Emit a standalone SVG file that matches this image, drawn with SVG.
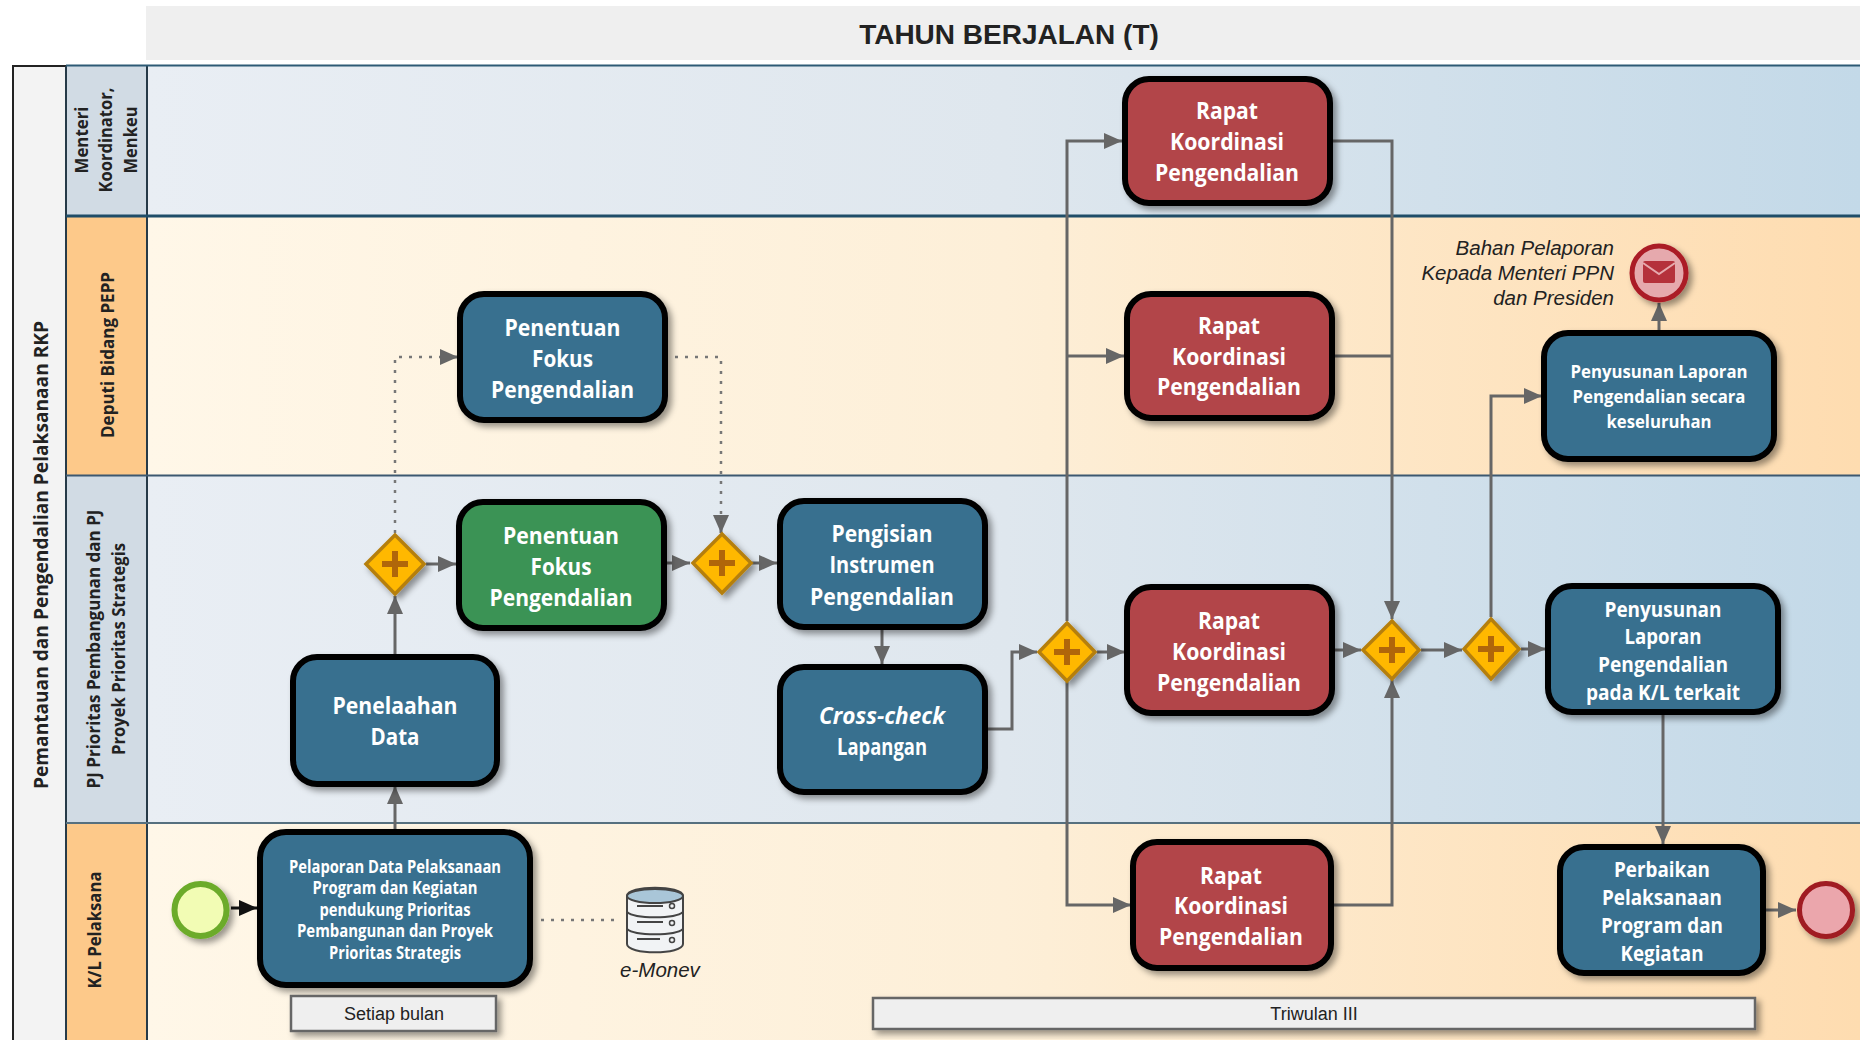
<svg xmlns="http://www.w3.org/2000/svg" width="1860" height="1040" viewBox="0 0 1860 1040">
<defs>
<linearGradient id="laneBlue" x1="0" x2="1" y1="0" y2="0"><stop offset="0" stop-color="#e9eef4"/><stop offset="0.5" stop-color="#dfe7ee"/><stop offset="1" stop-color="#c3d9e8"/></linearGradient>
<linearGradient id="laneOrange" x1="0" x2="1" y1="0" y2="0"><stop offset="0" stop-color="#fff7e8"/><stop offset="0.5" stop-color="#fdefd8"/><stop offset="1" stop-color="#fedcb0"/></linearGradient>
<filter id="sh" x="-20%" y="-20%" width="150%" height="150%"><feDropShadow dx="4" dy="4" stdDeviation="3" flood-color="#000" flood-opacity="0.4"/></filter>
<marker id="ag" markerUnits="userSpaceOnUse" markerWidth="20" markerHeight="18" refX="19" refY="9" orient="auto"><path d="M1 1 L19 9 L1 17 Z" fill="#666"/></marker>
<marker id="ak" markerUnits="userSpaceOnUse" markerWidth="20" markerHeight="18" refX="19" refY="9" orient="auto"><path d="M1 1 L19 9 L1 17 Z" fill="#111"/></marker>
</defs>
<style>
.c{fill:none;stroke:#666;stroke-width:3;marker-end:url(#ag)}
.p{fill:none;stroke:#666;stroke-width:3}
.d{fill:none;stroke:#777;stroke-width:2.500;stroke-dasharray:3 7}
.task{stroke:#000;stroke-width:6;filter:url(#sh)}
.blue{fill:#37708f}.red{fill:#b2444a}.green{fill:#3b9355}
.t{font-family:"Open Sans","Noto Sans",sans-serif;font-weight:700;fill:#fff;text-anchor:middle}
.t24{font-size:24px}.t21{font-size:21px}.t18{font-size:18px}.t17{font-size:17px}
.gw{fill:#ffb800;stroke:#b57f10;stroke-width:3.500;filter:url(#sh)}
.plus{fill:none;stroke:#b0660a;stroke-width:6}
.h{font-family:"Open Sans","Noto Sans",sans-serif;font-weight:700;fill:#222;text-anchor:middle;font-size:17px}
.a{font-family:"Liberation Sans",Arial,sans-serif;fill:#222}
.box{fill:#efefef;stroke:#666;stroke-width:2.500;filter:url(#sh)}
.dbb{fill:#f1f3f5;stroke:#444;stroke-width:2}
</style>
<rect width="1860" height="1040" fill="#fff"/>
<g id="lanes">
<rect x="146" y="6" width="1714" height="54" fill="#efefef"/>
<rect x="147" y="65" width="1713" height="151" fill="url(#laneBlue)"/>
<rect x="147" y="216" width="1713" height="259" fill="url(#laneOrange)"/>
<rect x="147" y="475" width="1713" height="348" fill="url(#laneBlue)"/>
<rect x="147" y="823" width="1713" height="217" fill="url(#laneOrange)"/>
<rect x="13" y="66" width="53" height="980" fill="#f3f3f3" stroke="#222" stroke-width="2"/>
<rect x="66" y="66" width="81" height="150" fill="#d1dbe4"/>
<rect x="66" y="216" width="81" height="259" fill="#fdc98a"/>
<rect x="66" y="475" width="81" height="348" fill="#d1dbe4"/>
<rect x="66" y="823" width="81" height="217" fill="#fdc98a"/>
<path d="M66 66V1040M147 66V1040" fill="none" stroke="#263a48" stroke-width="2"/>
<path d="M66 65.500H1860" stroke="#2d5a75" stroke-width="2"/>
<path d="M66 216H1860" stroke="#1f4d68" stroke-width="3"/>
<path d="M66 475.500H1860" stroke="#3c5870" stroke-width="2"/>
<path d="M66 823H1860" stroke="#56707f" stroke-width="2"/>
<text x="1009" y="44" text-anchor="middle" font-family="Liberation Sans,Arial,sans-serif" font-weight="700" font-size="28" fill="#222">TAHUN BERJALAN (T)</text>
<text class="h" transform="translate(48,555) rotate(-90)" style="font-size:19px" textLength="468" lengthAdjust="spacingAndGlyphs">Pemantauan dan Pengendalian Pelaksanaan RKP</text>
<text class="h" transform="translate(88,140) rotate(-90)" textLength="67" lengthAdjust="spacingAndGlyphs">Menteri</text>
<text class="h" transform="translate(112,140) rotate(-90)" textLength="105" lengthAdjust="spacingAndGlyphs">Koordinator,</text>
<text class="h" transform="translate(137,140) rotate(-90)" textLength="67" lengthAdjust="spacingAndGlyphs">Menkeu</text>
<text class="h" transform="translate(114,355) rotate(-90)" textLength="166" lengthAdjust="spacingAndGlyphs">Deputi Bidang PEPP</text>
<text class="h" transform="translate(100,649) rotate(-90)" textLength="279" lengthAdjust="spacingAndGlyphs">PJ Prioritas Pembangunan dan PJ</text>
<text class="h" transform="translate(125,649) rotate(-90)" textLength="212" lengthAdjust="spacingAndGlyphs">Proyek Prioritas Strategis</text>
<text class="h" transform="translate(101,930) rotate(-90)" textLength="117" lengthAdjust="spacingAndGlyphs">K/L Pelaksana</text>
</g>
<g id="connectors">
<path d="M231 908H257" fill="none" stroke="#111" stroke-width="3" marker-end="url(#ak)"/>
<path class="c" d="M395 829V786"/>
<path class="c" d="M395 654V596"/>
<path class="d" d="M395 533V357H440"/>
<path class="c" d="M440 357H458"/>
<path class="d" d="M675 357H721V518"/>
<path class="c" d="M721 516V533"/>
<path class="c" d="M426 564H456"/>
<path class="c" d="M666 563H690"/>
<path class="c" d="M752 563H777"/>
<path class="c" d="M882 630V664"/>
<path class="c" d="M987 729H1012V652H1037"/>
<path class="c" d="M1067 621V141H1122"/>
<path class="c" d="M1067 356H1124"/>
<path class="c" d="M1067 682V905H1131"/>
<path class="c" d="M1097 652H1125"/>
<path class="c" d="M1335 650H1361"/>
<path class="c" d="M1333 141H1392V619"/>
<path class="p" d="M1335 356H1392"/>
<path class="c" d="M1334 905H1392V680"/>
<path class="c" d="M1421 650H1462"/>
<path class="c" d="M1521 649H1546"/>
<path class="c" d="M1491 617V396H1542"/>
<path class="c" d="M1659 330V303"/>
<path class="c" d="M1663 715V844"/>
<path class="c" d="M1766 910H1796"/>
<path class="d" d="M541 920H620"/>
</g>
<g id="start"><circle cx="200.500" cy="910" r="26" fill="#f2fcb4" stroke="#6cab2b" stroke-width="6" filter="url(#sh)"/></g>
<g id="pelaporan"><rect class="task blue" x="260" y="832" width="270" height="153" rx="26"/>
<text class="t t17" x="395" y="873" textLength="212" lengthAdjust="spacingAndGlyphs">Pelaporan Data Pelaksanaan</text>
<text class="t t17" x="395" y="894" textLength="165" lengthAdjust="spacingAndGlyphs">Program dan Kegiatan</text>
<text class="t t17" x="395" y="916" textLength="151" lengthAdjust="spacingAndGlyphs">pendukung Prioritas</text>
<text class="t t17" x="395" y="937" textLength="196" lengthAdjust="spacingAndGlyphs">Pembangunan dan Proyek</text>
<text class="t t17" x="395" y="959" textLength="132" lengthAdjust="spacingAndGlyphs">Prioritas Strategis</text></g>
<g id="penelaahan"><rect class="task blue" x="293" y="657" width="204" height="127" rx="24"/>
<text class="t t24" x="395" y="714" textLength="125" lengthAdjust="spacingAndGlyphs">Penelaahan</text>
<text class="t t24" x="395" y="745" textLength="49" lengthAdjust="spacingAndGlyphs">Data</text></g>
<g id="fokus1"><rect class="task blue" x="460" y="294" width="205" height="126" rx="24"/>
<text class="t t24" x="562.500" y="336" textLength="116" lengthAdjust="spacingAndGlyphs">Penentuan</text>
<text class="t t24" x="562.500" y="367" textLength="61" lengthAdjust="spacingAndGlyphs">Fokus</text>
<text class="t t24" x="562.500" y="398" textLength="143" lengthAdjust="spacingAndGlyphs">Pengendalian</text></g>
<g id="fokus2"><rect class="task green" x="459" y="502" width="205" height="126" rx="24"/>
<text class="t t24" x="561" y="544" textLength="116" lengthAdjust="spacingAndGlyphs">Penentuan</text>
<text class="t t24" x="561" y="575" textLength="61" lengthAdjust="spacingAndGlyphs">Fokus</text>
<text class="t t24" x="561" y="606" textLength="143" lengthAdjust="spacingAndGlyphs">Pengendalian</text></g>
<g id="pengisian"><rect class="task blue" x="780" y="501" width="205" height="126" rx="24"/>
<text class="t t24" x="882" y="542" textLength="101" lengthAdjust="spacingAndGlyphs">Pengisian</text>
<text class="t t24" x="882" y="573" textLength="105" lengthAdjust="spacingAndGlyphs">Instrumen</text>
<text class="t t24" x="882" y="605" textLength="144" lengthAdjust="spacingAndGlyphs">Pengendalian</text></g>
<g id="crosscheck"><rect class="task blue" x="780" y="667" width="205" height="125" rx="24"/>
<text class="t t24" x="882" y="724" font-style="italic" textLength="126" lengthAdjust="spacingAndGlyphs">Cross-check</text>
<text class="t t24" x="882" y="755" textLength="90" lengthAdjust="spacingAndGlyphs">Lapangan</text></g>
<g id="rapat1"><rect class="task red" x="1125" y="79" width="205" height="124" rx="24"/>
<text class="t t24" x="1227" y="119" textLength="62" lengthAdjust="spacingAndGlyphs">Rapat</text>
<text class="t t24" x="1227" y="150" textLength="114" lengthAdjust="spacingAndGlyphs">Koordinasi</text>
<text class="t t24" x="1227" y="181" textLength="144" lengthAdjust="spacingAndGlyphs">Pengendalian</text></g>
<g id="rapat2"><rect class="task red" x="1127" y="294" width="205" height="124" rx="24"/>
<text class="t t24" x="1229" y="334" textLength="62" lengthAdjust="spacingAndGlyphs">Rapat</text>
<text class="t t24" x="1229" y="365" textLength="114" lengthAdjust="spacingAndGlyphs">Koordinasi</text>
<text class="t t24" x="1229" y="395" textLength="144" lengthAdjust="spacingAndGlyphs">Pengendalian</text></g>
<g id="rapat3"><rect class="task red" x="1127" y="587" width="205" height="126" rx="24"/>
<text class="t t24" x="1229" y="629" textLength="62" lengthAdjust="spacingAndGlyphs">Rapat</text>
<text class="t t24" x="1229" y="660" textLength="114" lengthAdjust="spacingAndGlyphs">Koordinasi</text>
<text class="t t24" x="1229" y="691" textLength="144" lengthAdjust="spacingAndGlyphs">Pengendalian</text></g>
<g id="rapat4"><rect class="task red" x="1133" y="842" width="198" height="126" rx="24"/>
<text class="t t24" x="1231" y="884" textLength="62" lengthAdjust="spacingAndGlyphs">Rapat</text>
<text class="t t24" x="1231" y="914" textLength="114" lengthAdjust="spacingAndGlyphs">Koordinasi</text>
<text class="t t24" x="1231" y="945" textLength="144" lengthAdjust="spacingAndGlyphs">Pengendalian</text></g>
<g id="penyusunan1"><rect class="task blue" x="1544" y="333" width="230" height="126" rx="24"/>
<text class="t t18" x="1659" y="378" textLength="177" lengthAdjust="spacingAndGlyphs">Penyusunan Laporan</text>
<text class="t t18" x="1659" y="403" textLength="173" lengthAdjust="spacingAndGlyphs">Pengendalian secara</text>
<text class="t t18" x="1659" y="428" textLength="105" lengthAdjust="spacingAndGlyphs">keseluruhan</text></g>
<g id="penyusunan2"><rect class="task blue" x="1548" y="586" width="230" height="126" rx="24"/>
<text class="t t21" x="1663" y="617" textLength="117" lengthAdjust="spacingAndGlyphs">Penyusunan</text>
<text class="t t21" x="1663" y="644" textLength="77" lengthAdjust="spacingAndGlyphs">Laporan</text>
<text class="t t21" x="1663" y="672" textLength="130" lengthAdjust="spacingAndGlyphs">Pengendalian</text>
<text class="t t21" x="1663" y="700" textLength="154" lengthAdjust="spacingAndGlyphs">pada K/L terkait</text></g>
<g id="perbaikan"><rect class="task blue" x="1560" y="847" width="203" height="126" rx="24"/>
<text class="t t21" x="1662" y="877" textLength="96" lengthAdjust="spacingAndGlyphs">Perbaikan</text>
<text class="t t21" x="1662" y="905" textLength="120" lengthAdjust="spacingAndGlyphs">Pelaksanaan</text>
<text class="t t21" x="1662" y="933" textLength="122" lengthAdjust="spacingAndGlyphs">Program dan</text>
<text class="t t21" x="1662" y="961" textLength="83" lengthAdjust="spacingAndGlyphs">Kegiatan</text></g>
<g id="gw1"><path class="gw" d="M395 535L424 564L395 594L366 564Z"/><path class="plus" d="M382 564H408M395 551V577"/></g>
<g id="gw2"><path class="gw" d="M722 534L751 563L722 593L693 563Z"/><path class="plus" d="M709 563H735M722 550V576"/></g>
<g id="gw3"><path class="gw" d="M1067 623L1095 652L1067 681L1039 652Z"/><path class="plus" d="M1054 652H1080M1067 639V665"/></g>
<g id="gw4"><path class="gw" d="M1392 621L1419 650L1392 679L1363 650Z"/><path class="plus" d="M1379 650H1405M1392 637V663"/></g>
<g id="gw5"><path class="gw" d="M1491 619L1519 649L1491 679L1464 649Z"/><path class="plus" d="M1478 649H1504M1491 636V662"/></g>
<g id="end"><circle cx="1826" cy="910" r="26.500" fill="#eba6ac" stroke="#a01a22" stroke-width="5" filter="url(#sh)"/></g>
<g id="message"><circle cx="1659" cy="273" r="27" fill="#e6a9ad" stroke="#ab1c27" stroke-width="5" filter="url(#sh)"/>
<rect x="1643" y="261" width="32" height="22" rx="2" fill="#b5313b"/><path d="M1643 263L1659 274L1675 263" fill="none" stroke="#e6a9ad" stroke-width="2"/></g>
<g id="bahan" class="a" font-size="20.500" font-style="italic" text-anchor="end"><text x="1614" y="255">Bahan Pelaporan</text><text x="1614" y="280">Kepada Menteri PPN</text><text x="1614" y="305">dan Presiden</text></g>
<g id="emonev"><path class="dbb" d="M627 896C627 885 683 885 683 896V944C683 955 627 955 627 944Z"/>
<ellipse cx="655" cy="896" rx="28" ry="7" fill="#a9c6d8" stroke="#444" stroke-width="2"/>
<path d="M627 912C635 919 675 919 683 912M627 929C635 936 675 936 683 929" fill="none" stroke="#444" stroke-width="2"/>
<path d="M637 906H663M637 922H663M637 939H660" stroke="#444" stroke-width="2"/>
<circle cx="672" cy="906" r="2.500" fill="none" stroke="#444" stroke-width="1.500"/><circle cx="672" cy="923" r="2.500" fill="none" stroke="#444" stroke-width="1.500"/><circle cx="672" cy="940" r="2.500" fill="none" stroke="#444" stroke-width="1.500"/>
<text class="a" x="660" y="977" text-anchor="middle" font-size="20.500" font-style="italic">e-Monev</text></g>
<g id="setiap"><rect class="box" x="291" y="996" width="205" height="35"/><text class="a" x="394" y="1020" text-anchor="middle" font-size="18">Setiap bulan</text></g>
<g id="triwulan"><rect class="box" x="873" y="998" width="882" height="31"/><text class="a" x="1314" y="1020" text-anchor="middle" font-size="18">Triwulan III</text></g>
</svg>
